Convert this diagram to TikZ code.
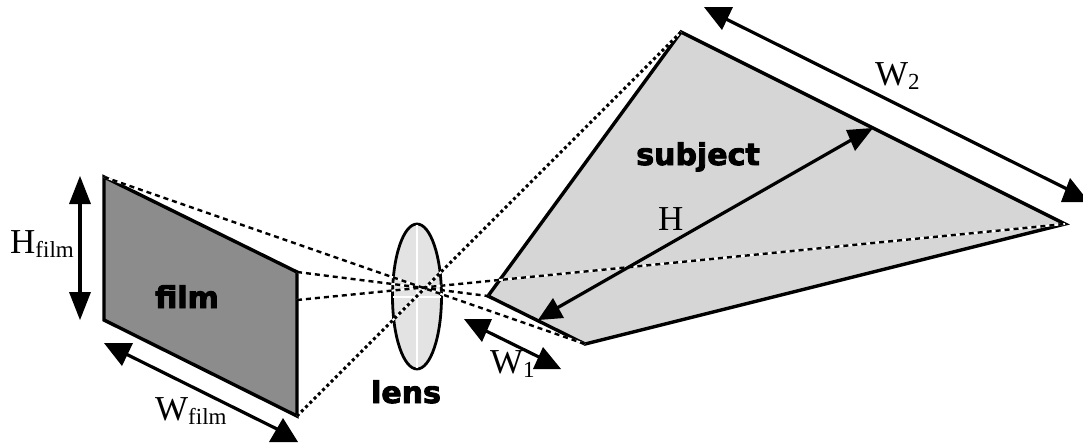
\documentclass[tikz,border=0pt]{standalone}
\usepackage{fontspec}
\setmainfont{Liberation Serif}
\newfontfamily\heavyfont[FakeBold=3]{DejaVu Sans Bold}
\definecolor{subjgray}{gray}{0.84}
\definecolor{filmgray}{gray}{0.55}
\definecolor{lensgray}{gray}{0.89}
\tikzset{
 plane/.style={draw=black,line width=3.4pt,line join=miter},
 ray/.style={black,line width=2.4pt,dash pattern=on 5pt off 4pt},
 rayd/.style={black,line width=3pt,dash pattern=on 3pt off 3pt},
 rayw/.style={white,line width=2pt},
 dim/.style={black,line width=3.2pt},
 tipfill/.style={fill=black},
 lab/.style={anchor=base west,inner sep=0pt,font=\fontsize{35}{35}\selectfont},
 tag/.style={anchor=base,inner sep=0pt,font=\heavyfont\fontsize{30}{30}\selectfont},
}
\newcommand{\subs}[1]{\raisebox{-4pt}{\fontsize{23}{23}\selectfont #1}}
\begin{document}
\begin{tikzpicture}[x=1pt,y=-1pt]
\useasboundingbox (0,0) rectangle (1083,442);
\clip (0,0) rectangle (1083,442);
% film corners
\coordinate (fa) at (104,177);
\coordinate (fb) at (297,272);
\coordinate (fc) at (297,416);
\coordinate (fd) at (104,320);
\coordinate (fm) at (297,300);
% subject corners
\coordinate (sa) at (681,32);
\coordinate (sb) at (1065,224);
\coordinate (sc) at (585,344);
\coordinate (sd) at (488,296);
\fill[fill=subjgray] (sa)--(sb)--(sc)--(sd)--cycle;
\draw[plane,fill=filmgray] (fa)--(fb)--(fc)--(fd)--cycle;
\draw[fill=lensgray,draw=black,line width=2.8pt] (417,296.5) ellipse [x radius=24.5,y radius=72.5];
\draw[white,line width=1.8pt] (417,225)--(417,368);
\draw[white,line width=1.8pt] (393,297)--(441,297);
\draw[plane] (sa)--(sb)--(sc)--(sd)--cycle;
% rays
\draw[rayw] (fa)--(sc);
\draw[rayw] (fb)--(sd);
\draw[rayw] (fm)--(sb);
\draw[rayw] (fc)--(sa);
\draw[ray] (fa)--(sc);
\draw[ray] (fb)--(sd);
\draw[ray] (fm)--(sb);
\draw[rayd] (fc)--(sa);
% H film
\coordinate (a1) at (80,200); \coordinate (a2) at (80,296);
\draw[dim] (a1)--(a2);
\fill[tipfill] (80,176)--(69,204)--(91,204)--cycle;
\fill[tipfill] (80,320)--(69,292)--(91,292)--cycle;
% W film
\coordinate (b1) at (122,352); \coordinate (b2) at (283,432);
\draw[dim] (b1)--(b2);
\fill[tipfill] (104,343)--(133,343)--(122,366)--cycle;
\fill[tipfill] (269,442)--(298,442)--(283,418)--cycle;
% W1
\coordinate (c1) at (480,328); \coordinate (c2) at (545,360);
\draw[dim] (c1)--(c2);
\fill[tipfill] (464,319)--(492,319)--(482,342)--cycle;
\fill[tipfill] (533,369)--(561,369)--(543,347)--cycle;
% W2
\coordinate (d1) at (720,16); \coordinate (d2) at (1075,193);
\draw[dim] (d1)--(d2);
\fill[tipfill] (704,7)--(733,7)--(722,30)--cycle;
\fill[tipfill] (1061,202)--(1089,202)--(1070,178)--cycle;
% H
\coordinate (e1) at (550,312); \coordinate (e2) at (860,135);
\draw[dim] (e1)--(e2);
\fill[tipfill] (538,320)--(564,318)--(553,298)--cycle;
\fill[tipfill] (873,128)--(846,130)--(855,151)--cycle;
% labels
\node[lab] (lhf) at (10,253) {H\subs{film}};
\node[lab] (lwf) at (155,420) {W\subs{film}};
\node[lab] (lw1) at (490,373) {W\subs{1}};
\node[lab] (lw2) at (875,85) {W\subs{2}};
\node[lab] (lh) at (658,230) {H};
\node[tag] (tf) at (187,308) {film};
\node[tag] (tl) at (406,403) {lens};
\node[tag] (ts) at (698,165) {subject};
\end{tikzpicture}
\end{document}
